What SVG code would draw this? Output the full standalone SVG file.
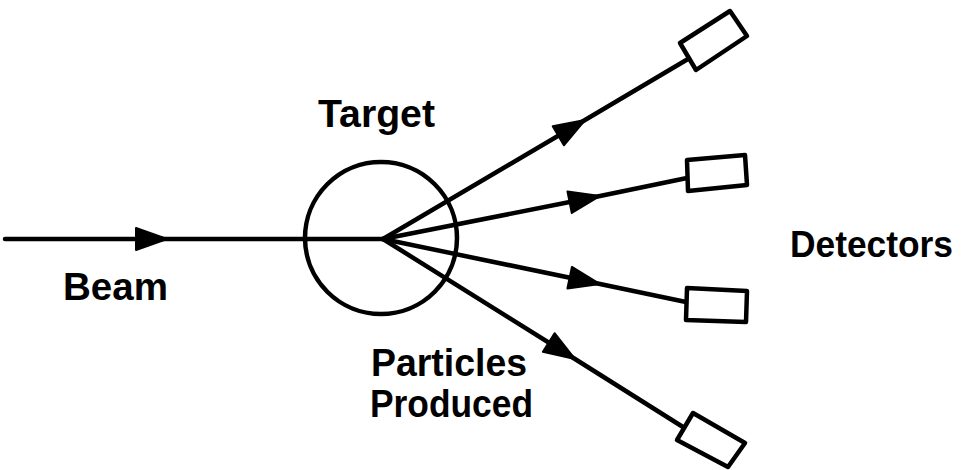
<svg xmlns="http://www.w3.org/2000/svg" width="965" height="470" viewBox="0 0 965 470">
<style>
.ln{fill:none;stroke:#000;stroke-width:4.5;stroke-linecap:round;stroke-linejoin:round;marker-mid:url(#ah)}
.det{fill:#fff;stroke:#000;stroke-width:4.5;stroke-linejoin:round}
.lbl{font-family:"Liberation Sans",Arial,sans-serif;font-size:39px;font-weight:bold;fill:#000}
</style>
<defs>
<marker id="ah" markerUnits="userSpaceOnUse" markerWidth="36" markerHeight="28" viewBox="0 0 36 28" refX="33" refY="14" orient="auto">
<path d="M2,3 L33,14 L2,25 Z" fill="#000" stroke="#000" stroke-width="2" stroke-linejoin="round"/>
</marker>
</defs>
<rect width="965" height="470" fill="#fff"/>
<g id="target">
<circle cx="381" cy="238" r="76" fill="none" stroke="#000" stroke-width="4.5"/>
<text class="lbl" x="318" y="127" textLength="117" lengthAdjust="spacingAndGlyphs">Target</text>
</g>
<g id="connectors">
<path id="beam" class="ln" d="M5,239 L167,239 L383,239"/>
<path class="ln" d="M383,239 L585,120 L688,59"/>
<path class="ln" d="M383,239 L600,196 L687,178"/>
<path class="ln" d="M383,239 L600,284 L686,302"/>
<path class="ln" d="M383,239 L575,359 L683,427"/>
</g>
<g id="beam-label">
<text class="lbl" x="63" y="300" textLength="105" lengthAdjust="spacingAndGlyphs">Beam</text>
</g>
<g id="detector1"><polygon class="det" points="680,43 730,11 747,36 696,70"/></g>
<g id="detector2"><polygon class="det" points="687,160 745,155 747,185 688,191"/></g>
<g id="detector3"><polygon class="det" points="687,288 747,291 746,322 686,320"/></g>
<g id="detector4"><polygon class="det" points="677,440 693,413 745,443 728,467"/></g>
<g id="detectors-label">
<text class="lbl" x="790" y="257" style="font-size:37px" textLength="163" lengthAdjust="spacingAndGlyphs">Detectors</text>
</g>
<g id="particles-label">
<text class="lbl" x="371" y="376" textLength="156" lengthAdjust="spacingAndGlyphs">Particles</text>
<text class="lbl" x="370" y="417" textLength="163" lengthAdjust="spacingAndGlyphs">Produced</text>
</g>
</svg>
